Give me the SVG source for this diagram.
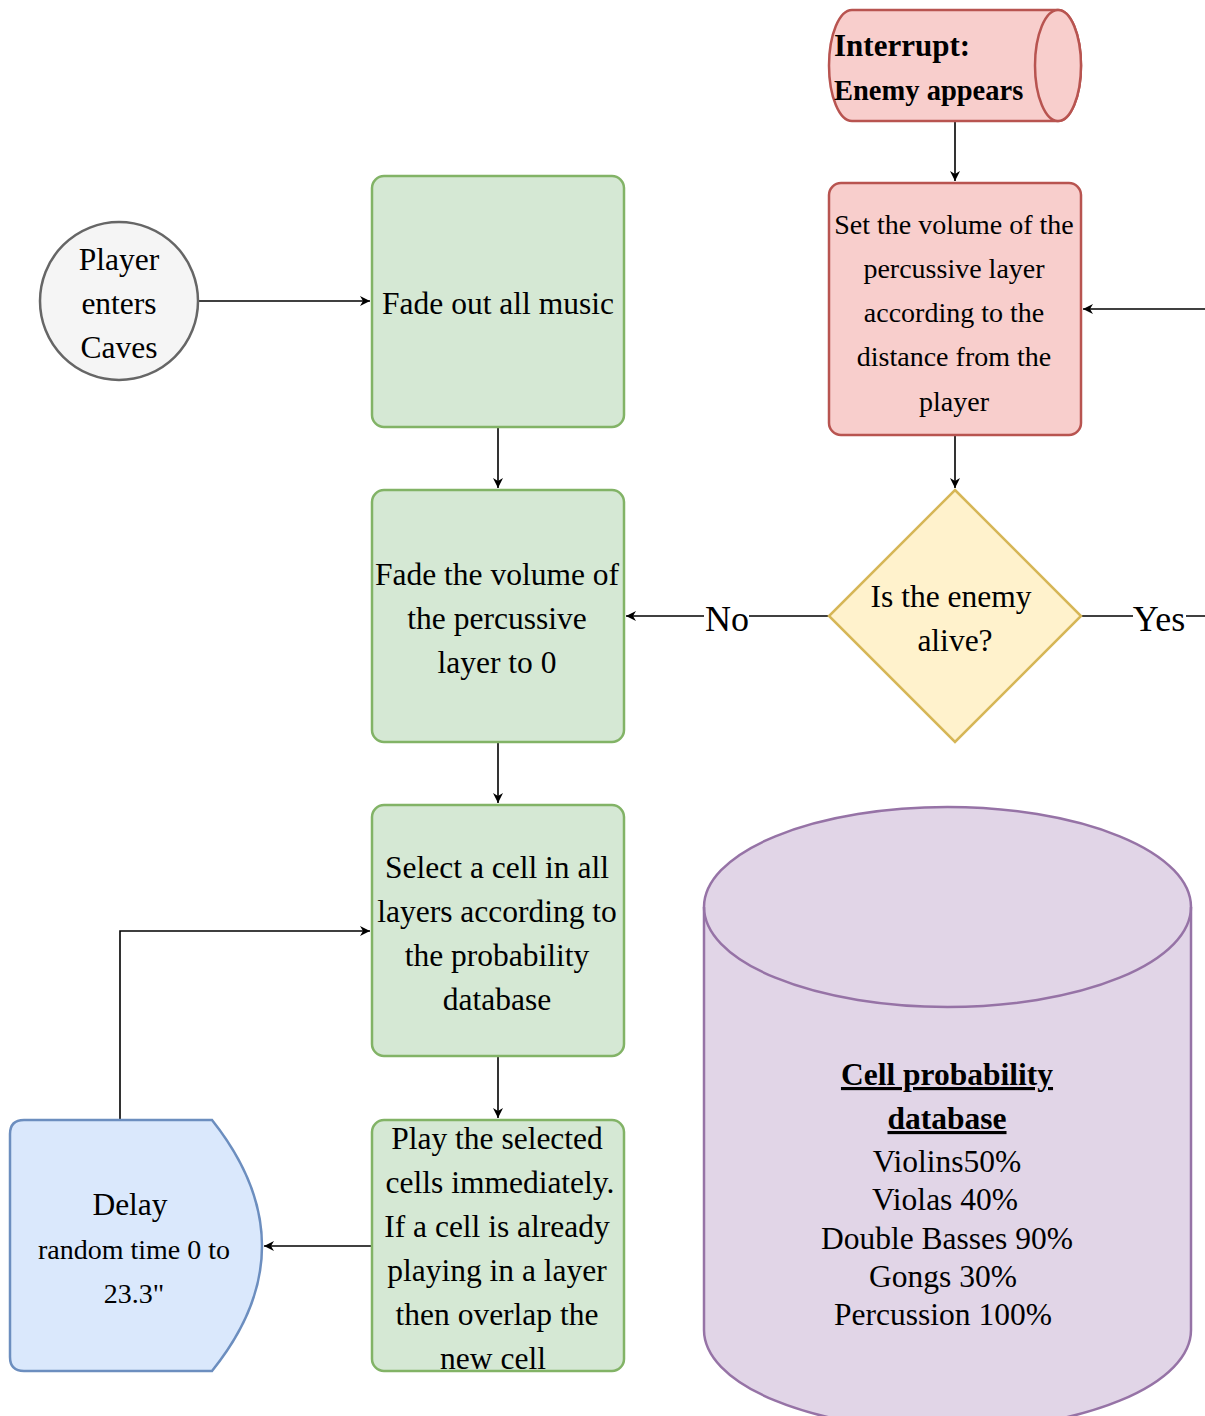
<svg xmlns="http://www.w3.org/2000/svg" width="1205" height="1416" viewBox="0 0 1205 1416">
<defs>
<style>
.t{font-family:"Liberation Serif","Times New Roman",serif;fill:#000;text-anchor:middle}
.m{font-size:31.5px}
.s{font-size:28px}
.g{fill:#d5e8d4;stroke:#82b366;stroke-width:2.5}
.r{fill:#f8cecc;stroke:#b85450;stroke-width:2.5}
.c{fill:none;stroke:#000;stroke-width:1.6}
</style>
<marker id="a" markerWidth="12" markerHeight="12" viewBox="0 0 12 12" refX="11" refY="6" orient="auto" markerUnits="userSpaceOnUse">
<path d="M1,1 L11,6 L1,11 L4,6 Z" fill="#000"/>
</marker>
</defs>
<rect width="1205" height="1416" fill="#fff"/>

<g id="connectors">
<path class="c" d="M199,301 H370" marker-end="url(#a)"/>
<path class="c" d="M498,428 V488" marker-end="url(#a)"/>
<path class="c" d="M498,743 V803" marker-end="url(#a)"/>
<path class="c" d="M498,1057 V1118" marker-end="url(#a)"/>
<path class="c" d="M371,1246 H264" marker-end="url(#a)"/>
<path class="c" d="M120,1120 V931 H370" marker-end="url(#a)"/>
<path class="c" d="M955,122 V181" marker-end="url(#a)"/>
<path class="c" d="M955,436 V488" marker-end="url(#a)"/>
<path class="c" d="M829,616 H626" marker-end="url(#a)"/>
<path class="c" d="M1081,616 H1205"/>
<path class="c" d="M1205,309 H1083" marker-end="url(#a)"/>
<rect x="704" y="596" width="45" height="40" fill="#fff"/>
<text class="t" x="727" y="631" style="font-size:36px">No</text>
<rect x="1133" y="596" width="53" height="40" fill="#fff"/>
<text class="t" x="1159" y="631" style="font-size:36px">Yes</text>
</g>

<g id="player">
<circle cx="119" cy="301" r="79" fill="#f5f5f5" stroke="#666" stroke-width="2.5"/>
<text class="t m" x="119" y="270">Player</text>
<text class="t m" x="119" y="314">enters</text>
<text class="t m" x="119" y="358">Caves</text>
</g>

<g id="fadeout">
<rect class="g" x="372" y="176" width="252" height="251" rx="12"/>
<text class="t m" x="498" y="314">Fade out all music</text>
</g>

<g id="fadeperc">
<rect class="g" x="372" y="490" width="252" height="252" rx="12"/>
<text class="t m" x="497" y="585">Fade the volume of</text>
<text class="t m" x="497" y="629">the percussive</text>
<text class="t m" x="497" y="673">layer to 0</text>
</g>

<g id="select">
<rect class="g" x="372" y="805" width="252" height="251" rx="12"/>
<text class="t m" x="497" y="878">Select a cell in all</text>
<text class="t m" x="497" y="922">layers according to</text>
<text class="t m" x="497" y="966">the probability</text>
<text class="t m" x="497" y="1010">database</text>
</g>

<g id="play">
<rect class="g" x="372" y="1120" width="252" height="251" rx="12"/>
<text class="t m" x="497" y="1149">Play the selected</text>
<text class="t m" x="500" y="1193">cells immediately.</text>
<text class="t m" x="497" y="1237">If a cell is already</text>
<text class="t m" x="497" y="1281">playing in a layer</text>
<text class="t m" x="497" y="1325">then overlap the</text>
<text class="t m" x="493" y="1369">new cell</text>
</g>

<g id="delay">
<path d="M24,1120 H212 Q262,1183 262,1246 Q262,1309 212,1371 H24 Q10,1371 10,1357 V1134 Q10,1120 24,1120 Z" fill="#dae8fc" stroke="#6c8ebf" stroke-width="2.5"/>
<text class="t m" x="130" y="1215">Delay</text>
<text class="t s" x="134" y="1259">random time 0 to</text>
<text class="t s" x="134" y="1303">23.3"</text>
</g>

<g id="interrupt">
<path d="M852,10 H1058 A23,55.5 0 0 1 1058,121 H852 A23,55.5 0 0 1 852,10 Z" class="r"/>
<ellipse cx="1058" cy="65.5" rx="23" ry="55.5" class="r"/>
<text x="834" y="56" style="font-family:'Liberation Serif','Times New Roman',serif;font-size:31px;font-weight:bold">Interrupt:</text>
<text x="834" y="100" style="font-family:'Liberation Serif','Times New Roman',serif;font-size:28.5px;font-weight:bold">Enemy appears</text>
</g>

<g id="setvol">
<rect class="r" x="829" y="183" width="252" height="252" rx="12"/>
<text class="t s" x="954" y="234">Set the volume of the</text>
<text class="t s" x="954" y="278">percussive layer</text>
<text class="t s" x="954" y="322">according to the</text>
<text class="t s" x="954" y="366">distance from the</text>
<text class="t s" x="954" y="411">player</text>
</g>

<g id="alive">
<path d="M955,490 L1081,616 L955,742 L829,616 Z" fill="#fff2cc" stroke="#d6b656" stroke-width="2.5"/>
<text class="t m" x="951" y="607">Is the enemy</text>
<text class="t m" x="955" y="651">alive?</text>
</g>

<g id="database">
<path d="M704,907 A243.5,100 0 0 1 1191,907 V1330 A243.5,100 0 0 1 704,1330 Z" fill="#e1d5e7" stroke="#9673a6" stroke-width="2.5"/>
<path d="M704,907 A243.5,100 0 0 0 1191,907" fill="none" stroke="#9673a6" stroke-width="2.5"/>
<text class="t m" x="947" y="1085" style="font-weight:bold;text-decoration:underline">Cell probability</text>
<text class="t m" x="947" y="1129" style="font-weight:bold;text-decoration:underline">database</text>
<text class="t m" x="947" y="1172">Violins50%</text>
<text class="t m" x="945" y="1210">Violas 40%</text>
<text class="t m" x="947" y="1249">Double Basses 90%</text>
<text class="t m" x="943" y="1287">Gongs 30%</text>
<text class="t m" x="943" y="1325">Percussion 100%</text>
</g>
</svg>
